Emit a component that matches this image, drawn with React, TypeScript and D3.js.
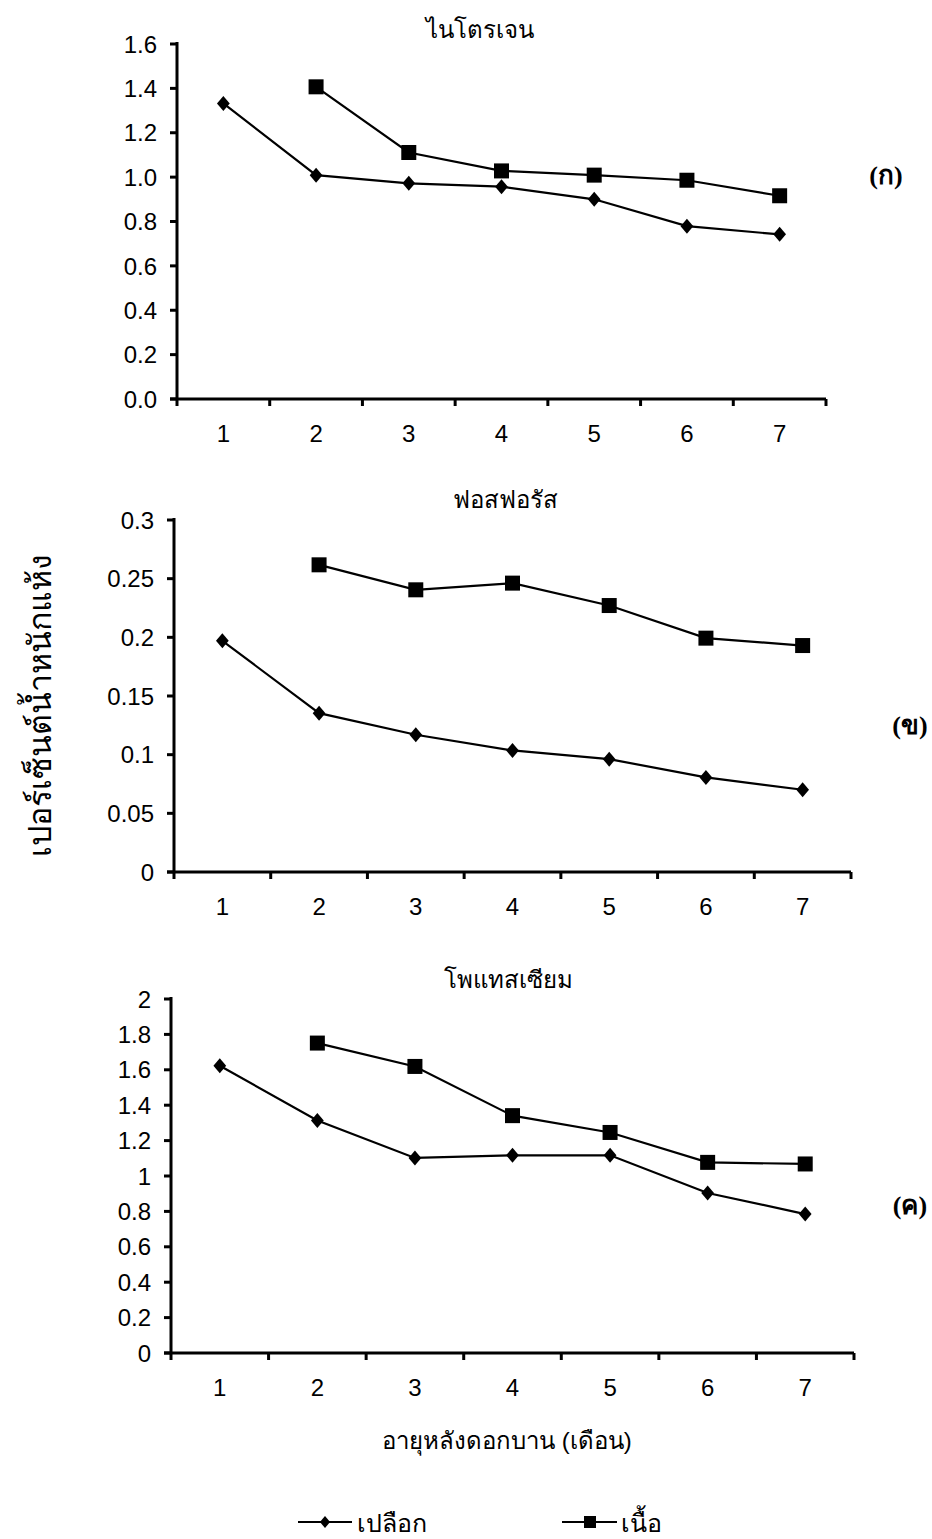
import React from "react";
import * as d3 from "d3";

const months = ["1", "2", "3", "4", "5", "6", "7"];

// ไนโตรเจน
const nPeel = [1.332, 1.009, 0.972, 0.957, 0.9, 0.779, 0.742];
const nFlesh = [null, 1.407, 1.111, 1.028, 1.009, 0.986, 0.916];
const nTicks = [0, 0.2, 0.4, 0.6, 0.8, 1.0, 1.2, 1.4, 1.6];

// ฟอสฟอรัส
const pPeel = [0.197, 0.1354, 0.117, 0.1036, 0.0962, 0.0806, 0.0701];
const pFlesh = [null, 0.2618, 0.2405, 0.2462, 0.2271, 0.1993, 0.193];
const pTicks = [0, 0.05, 0.1, 0.15, 0.2, 0.25, 0.3];

// โพแทสเซียม
const kPeel = [1.623, 1.314, 1.102, 1.117, 1.117, 0.904, 0.785];
const kFlesh = [null, 1.751, 1.619, 1.341, 1.246, 1.077, 1.068];
const kTicks = [0, 0.2, 0.4, 0.6, 0.8, 1, 1.2, 1.4, 1.6, 1.8, 2];

const seriesNames = ["เปลือก", "เนื้อ"];

const FONT = "'Liberation Sans', Arial, sans-serif";

type PanelProps = {
  title: string;
  titleX: number;
  titleY: number;
  left: number;
  right: number;
  top: number;
  bottom: number;
  ticks: number[];
  fmt: (v: number) => string;
  peel: (number | null)[];
  flesh: (number | null)[];
  tag: string;
  tagX: number;
  tagY: number;
};

function Diamond({ x, y, r }: { x: number; y: number; r: number }) {
  return (
    <path
      d={`M${x},${y - r} L${x + r * 0.85},${y} L${x},${y + r} L${x - r * 0.85},${y} Z`}
      fill="#000"
    />
  );
}

function Square({ x, y, s }: { x: number; y: number; s: number }) {
  return <rect x={x - s / 2} y={y - s / 2} width={s} height={s} fill="#000" />;
}

function Panel(p: PanelProps) {
  const x = d3.scaleBand<string>().domain(months).range([p.left, p.right]).padding(0);
  const yMax = p.ticks[p.ticks.length - 1];
  const y = d3.scaleLinear().domain([0, yMax]).range([p.bottom, p.top]);
  const cx = (m: string) => (x(m) as number) + x.bandwidth() / 2;

  const line = d3
    .line<[string, number | null]>()
    .defined((d) => d[1] !== null)
    .x((d) => cx(d[0]))
    .y((d) => y(d[1] as number));

  const peelData = months.map((m, i) => [m, p.peel[i]] as [string, number | null]);
  const fleshData = months.map((m, i) => [m, p.flesh[i]] as [string, number | null]);
  const boundaries = months.map((m) => x(m) as number).concat([p.right]);

  return (
    <g>
      <text x={p.titleX} y={p.titleY} textAnchor="middle" fontSize={24} fontFamily={FONT}>
        {p.title}
      </text>
      {/* y axis */}
      <line x1={p.left} x2={p.left} y1={p.top - 2} y2={p.bottom} stroke="#000" strokeWidth={3} />
      {p.ticks.map((t) => (
        <g key={t}>
          <line x1={p.left - 7} x2={p.left} y1={y(t)} y2={y(t)} stroke="#000" strokeWidth={3} />
          <text
            x={p.left - 20}
            y={y(t)}
            dy="0.36em"
            textAnchor="end"
            fontSize={24}
            fontFamily={FONT}
          >
            {p.fmt(t)}
          </text>
        </g>
      ))}
      {/* x axis */}
      <line x1={p.left - 7} x2={p.right} y1={p.bottom} y2={p.bottom} stroke="#000" strokeWidth={3} />
      {boundaries.map((b, i) => (
        <line key={i} x1={b} x2={b} y1={p.bottom} y2={p.bottom + 7} stroke="#000" strokeWidth={3} />
      ))}
      {months.map((m) => (
        <text key={m} x={cx(m)} y={p.bottom + 43} textAnchor="middle" fontSize={24} fontFamily={FONT}>
          {m}
        </text>
      ))}
      {/* lines */}
      <path d={line(peelData) || ""} fill="none" stroke="#000" strokeWidth={2.2} />
      <path d={line(fleshData) || ""} fill="none" stroke="#000" strokeWidth={2.2} />
      {peelData
        .filter((d) => d[1] !== null)
        .map((d) => (
          <Diamond key={d[0]} x={cx(d[0])} y={y(d[1] as number)} r={7.5} />
        ))}
      {fleshData
        .filter((d) => d[1] !== null)
        .map((d) => (
          <Square key={d[0]} x={cx(d[0])} y={y(d[1] as number)} s={15} />
        ))}
      <text x={p.tagX} y={p.tagY} textAnchor="middle" fontSize={26} fontWeight="bold" fontFamily="'Liberation Serif', serif">
        {p.tag}
      </text>
    </g>
  );
}

export default function App() {
  const fmt1 = d3.format(".1f");
  const fmtDefault = (v: number) => String(+v.toFixed(2));
  return (
    <svg
      width={932}
      height={1539}
      style={{ position: "absolute", left: 0, top: 0, background: "#fff" }}
    >
      <rect width={932} height={1539} fill="#fff" />
      <Panel
        title="ไนโตรเจน"
        titleX={480}
        titleY={38}
        left={177}
        right={826}
        top={44}
        bottom={399}
        ticks={nTicks}
        fmt={fmt1}
        peel={nPeel}
        flesh={nFlesh}
        tag="(ก)"
        tagX={886}
        tagY={184}
      />
      <Panel
        title="ฟอสฟอรัส"
        titleX={505}
        titleY={508}
        left={174}
        right={851}
        top={520}
        bottom={872}
        ticks={pTicks}
        fmt={fmtDefault}
        peel={pPeel}
        flesh={pFlesh}
        tag="(ข)"
        tagX={910}
        tagY={734}
      />
      <Panel
        title="โพแทสเซียม"
        titleX={508}
        titleY={988}
        left={171}
        right={854}
        top={999}
        bottom={1353}
        ticks={kTicks}
        fmt={fmtDefault}
        peel={kPeel}
        flesh={kFlesh}
        tag="(ค)"
        tagX={910}
        tagY={1214}
      />
      <text
        transform="translate(51,705) rotate(-90)"
        textAnchor="middle"
        fontSize={32}
        fontFamily={FONT}
      >
        เปอร์เซ็นต์น้ำหนักแห้ง
      </text>
      <text x={507} y={1449} textAnchor="middle" fontSize={24} fontFamily={FONT}>
        อายุหลังดอกบาน (เดือน)
      </text>
      {/* legend */}
      <g>
        <line x1={298} x2={352} y1={1522} y2={1522} stroke="#000" strokeWidth={2} />
        <Diamond x={325} y={1522} r={6} />
        <text x={357} y={1532} fontSize={25} fontFamily={FONT}>
          {seriesNames[0]}
        </text>
        <line x1={562} x2={617} y1={1522} y2={1522} stroke="#000" strokeWidth={2} />
        <Square x={590} y={1522} s={12} />
        <text x={621} y={1532} fontSize={25} fontFamily={FONT}>
          {seriesNames[1]}
        </text>
      </g>
    </svg>
  );
}
